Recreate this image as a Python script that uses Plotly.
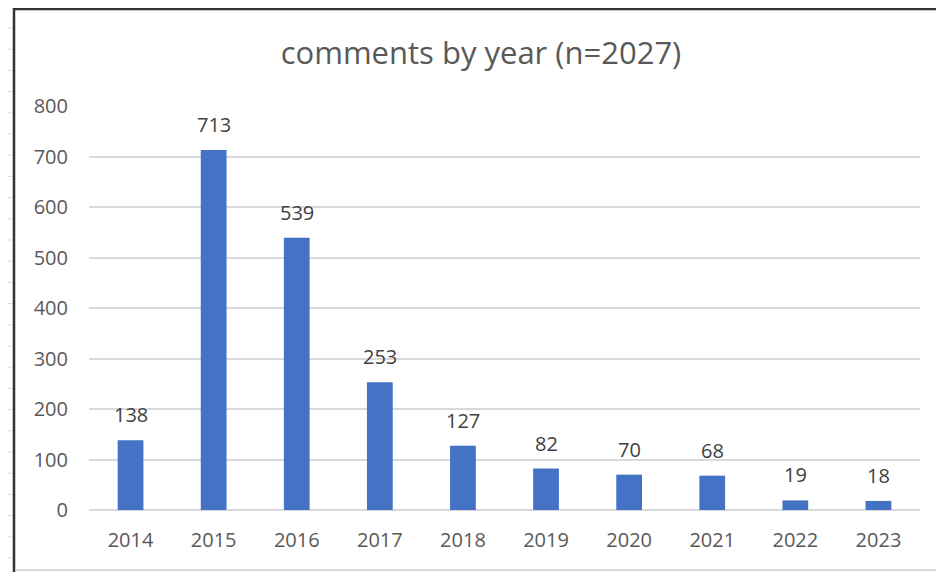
import plotly.graph_objects as go

years = ["2014", "2015", "2016", "2017", "2018", "2019", "2020", "2021", "2022", "2023"]
comments = [138, 713, 539, 253, 127, 82, 70, 68, 19, 18]
y_ticks = [0, 100, 200, 300, 400, 500, 600, 700, 800]
title_text = "comments by year (n=2027)"

FONT = "Open Sans, Liberation Sans, sans-serif"
OFF = 8  # page body margin
W, H = 944 - OFF, 572 - OFF
L, R, T, B = 89 - OFF, 24, 106 - OFF, 62
pw, ph = W - L - R, H - T - B


def px(xp):
    return (xp - OFF - L) / pw


def py(yp):
    return (H - B - (yp - OFF)) / ph


fig = go.Figure(go.Bar(
    x=years, y=comments, width=0.31,
    marker=dict(color="#4472C4", line=dict(width=0)),
    hoverinfo="x+y",
))

# data labels; numeric-looking categories are addressed by their serial index
for i, v in enumerate(comments):
    fig.add_annotation(x=i, y=v, text=str(v), showarrow=False, xanchor="center", yanchor="bottom",
                       yshift=10, font=dict(family=FONT, size=20, color="#404040"))

shapes = []
for k in range(27):
    yy = 28 + 21.2 * k
    if yy > 572:
        break
    shapes.append(dict(type="line", xref="paper", yref="paper", x0=px(OFF), x1=px(14), y0=py(yy), y1=py(yy),
                       line=dict(color="#d9d9d9", width=1)))
# chart frame
shapes.append(dict(type="line", xref="paper", yref="paper", x0=px(14), x1=px(944), y0=py(9), y1=py(9),
                   line=dict(color="#333333", width=2.5)))
shapes.append(dict(type="line", xref="paper", yref="paper", x0=px(14), x1=px(14), y0=py(8), y1=py(572),
                   line=dict(color="#333333", width=2.5)))
shapes.append(dict(type="line", xref="paper", yref="paper", x0=px(16), x1=px(944), y0=py(570), y1=py(570),
                   line=dict(color="#d9d9d9", width=2)))

fig.update_layout(
    width=W, height=H,
    margin=dict(l=L, r=R, t=T, b=B, autoexpand=False),
    paper_bgcolor="white", plot_bgcolor="white",
    showlegend=False,
    title=dict(text=title_text, x=(481 - OFF) / W, xanchor="center",
               y=1 - (53 - OFF) / H, yanchor="middle",
               font=dict(family=FONT, size=31, color="#595959")),
    xaxis=dict(type="category", categoryorder="array", categoryarray=years, range=[-0.5, len(years) - 0.5],
               showgrid=False, showline=False, zeroline=False, ticks="",
               tickfont=dict(family=FONT, size=20, color="#595959"),
               ticklabelstandoff=16),
    yaxis=dict(range=[0, 800], tickvals=y_ticks, showgrid=True, gridcolor="#d9d9d9", gridwidth=1.5,
               zeroline=True, zerolinecolor="#d9d9d9", zerolinewidth=1.5, showline=False, ticks="",
               tickfont=dict(family=FONT, size=20, color="#595959"),
               ticklabelstandoff=20),
    shapes=shapes,
    font=dict(family=FONT),
)

fig.write_html("out.html")
